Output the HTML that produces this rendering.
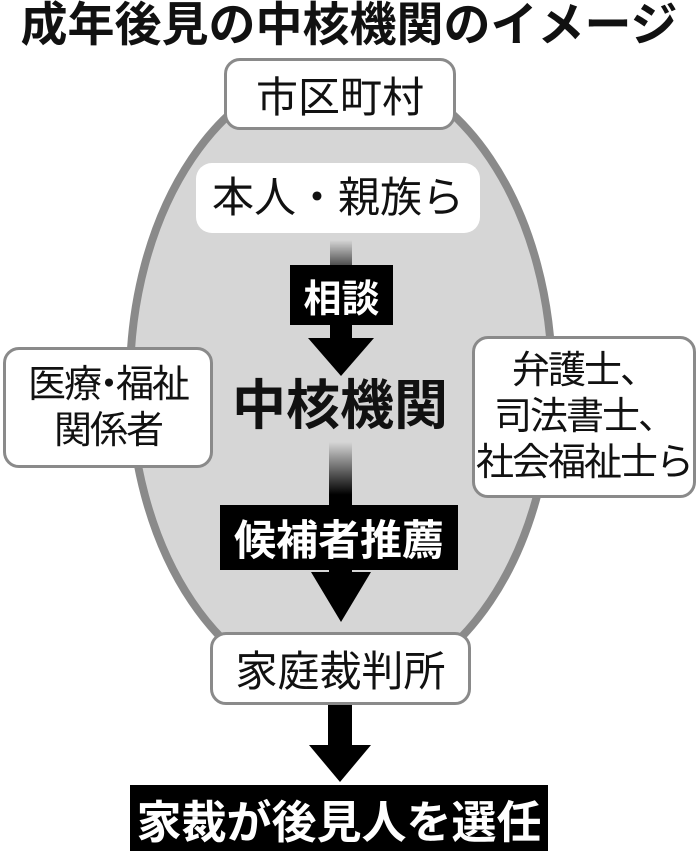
<!DOCTYPE html>
<html><head><meta charset="utf-8"><style>
body{margin:0;background:#fff;width:698px;height:851px;overflow:hidden;position:relative;font-family:"Liberation Sans","Noto Sans CJK JP",sans-serif;}
.t{position:absolute;white-space:nowrap;text-align:center;color:#111;}
.box{position:absolute;background:#fff;border:3px solid #8a8a8a;border-radius:16px;box-sizing:border-box;display:flex;align-items:center;justify-content:center;text-align:center;color:#111;white-space:nowrap;}
.blk{position:absolute;background:#000;color:#fff;font-weight:bold;display:flex;align-items:center;justify-content:center;white-space:nowrap;}
</style></head><body>
<svg width="698" height="851" style="position:absolute;left:0;top:0">
<defs><linearGradient id="g" x1="0" y1="0" x2="0" y2="1"><stop offset="0" stop-color="#000" stop-opacity="0"/><stop offset="0.4" stop-color="#000"/></linearGradient></defs>
<ellipse cx="341" cy="380" rx="211" ry="313" fill="#d6d6d6" stroke="#8a8a8a" stroke-width="8"/>
<rect x="196" y="163" width="284" height="70" rx="16" fill="#fff"/>
<rect x="330" y="240" width="22" height="100" fill="url(#g)"/>
<polygon points="308,338 374,338 341,376" fill="#000"/>
<rect x="329" y="442" width="23" height="132" fill="url(#g)"/>
<polygon points="311,572 371,572 341,622" fill="#000"/>
<rect x="328" y="704" width="24" height="44" fill="#000"/>
<polygon points="309,745 371,745 340,782" fill="#000"/>
</svg>
<div class="t" style="left:0;width:698px;top:-1px;font-size:47px;font-weight:bold;line-height:52px;letter-spacing:0px">成年後見の中核機関のイメージ</div>
<div class="box" style="left:224px;top:58px;width:232px;height:72px;font-size:42px">市区町村</div>
<div class="t" style="left:196px;width:284px;top:170px;font-size:42px;line-height:56px">本人・親族ら</div>
<div class="blk" style="left:290px;top:265px;width:103px;height:60px;font-size:38px">相談</div>
<div class="t" style="left:200px;width:280px;top:376px;font-size:54px;font-weight:bold;line-height:60px">中核機関</div>
<div class="box" style="left:3px;top:347px;width:210px;height:121px;font-size:38px;line-height:46px;letter-spacing:-2px"><div>医療<span style="margin:0 -10px">・</span>福祉<br>関係者</div></div>
<div class="box" style="left:472px;top:336px;width:224px;height:162px;font-size:38px;line-height:46px;letter-spacing:-2px"><div>弁護士、<br>司法書士、<br>社会福祉士ら</div></div>
<div class="blk" style="left:220px;top:505px;width:238px;height:65px;font-size:42px">候補者推薦</div>
<div class="box" style="left:210px;top:632px;width:261px;height:73px;font-size:42px">家庭裁判所</div>
<div class="blk" style="left:130px;top:785px;width:418px;height:66px;font-size:45px">家裁が後見人を選任</div>
</body></html>
